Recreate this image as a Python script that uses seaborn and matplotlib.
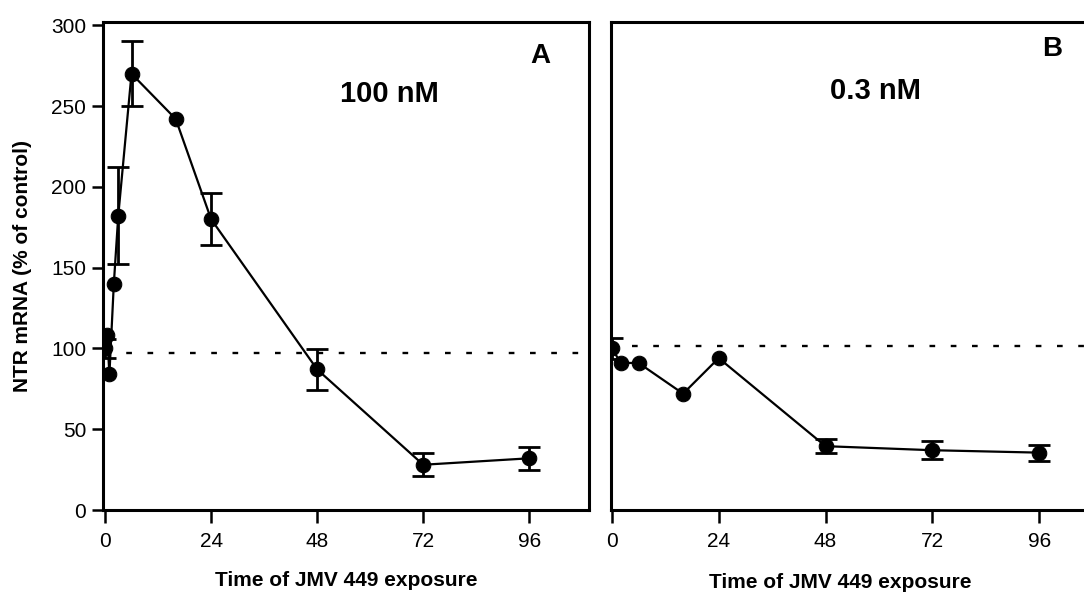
import seaborn as sns
import pandas as pd
import numpy as np
import matplotlib
matplotlib.use("Agg")
import matplotlib.pyplot as plt

# panel A : 100 nM
time_a = [0, 0.5, 1, 2, 3, 6, 16, 24, 48, 72, 96]
ntr_a = [100, 108, 84, 140, 182, 270, 242, 180, 87, 28, 32]
err_a = [6, 0, 0, 0, 30, 20, 0, 16, 12.5, 7, 7]
ctrl_a = 97

# panel B : 0.3 nM
time_b = [0, 2, 6, 16, 24, 48, 72, 96]
ntr_b = [100, 91, 91, 72, 94, 39.5, 37, 35.5]
err_b = [6.5, 0, 0, 0, 0, 4.5, 5.5, 5]
ctrl_b = 101.5

xticks = [0, 24, 48, 72, 96]
yticks = [0, 50, 100, 150, 200, 250, 300]

sns.set_style("ticks", {"axes.edgecolor": "black", "xtick.color": "black",
                        "ytick.color": "black", "text.color": "black",
                        "axes.labelcolor": "black"})
plt.rcParams["font.family"] = ["Liberation Sans", "DejaVu Sans"]

fig = plt.figure(figsize=(10.84, 5.93), dpi=100)
W, H = 1084, 593
ax1 = fig.add_axes([103 / W, 83 / H, 486 / W, 488 / H])
ax2 = fig.add_axes([611 / W, 83 / H, 486 / W, 488 / H])

df_a = pd.DataFrame({"time": time_a, "ntr": ntr_a, "err": err_a})
df_b = pd.DataFrame({"time": time_b, "ntr": ntr_b, "err": err_b})

for ax, df, ctrl, x0 in [(ax1, df_a, ctrl_a, 0), (ax2, df_b, ctrl_b, 4.5)]:
    ax.hlines(ctrl, x0, 112, colors="black", linewidth=1.7,
              linestyles=(0, (2.4, 6.6)), zorder=1)
    e = df[df["err"] > 0]
    ax.errorbar(e["time"], e["ntr"], yerr=e["err"], fmt="none", ecolor="black",
                elinewidth=2, capsize=8, capthick=2, zorder=2)
    sns.lineplot(data=df, x="time", y="ntr", ax=ax, color="black", linewidth=1.6,
                 marker="o", markersize=10.5, markeredgecolor="black", zorder=3)
    ax.set_ylim(0, 302)
    ax.set_xticks(xticks)
    ax.tick_params(axis="x", direction="out", length=9, width=1.8, labelsize=15,
                   pad=7, colors="black")
    ax.set_xlabel("Time of JMV 449 exposure", fontsize=15, fontweight="bold")
    for s in ax.spines.values():
        s.set_linewidth(2.2)
        s.set_color("black")
        s.set_visible(True)

ax1.set_xlim(-0.45, 109.5)
ax2.set_xlim(-0.2, 109.0)

ax1.set_yticks(yticks)
ax1.tick_params(axis="y", direction="out", length=8, width=1.8, labelsize=15,
                pad=4, colors="black")
ax1.set_ylabel("NTR mRNA (% of control)", fontsize=15, fontweight="bold", labelpad=14)

ax2.set_yticks([])
ax2.set_ylabel("")
ax2.spines["right"].set_visible(False)

ax1.xaxis.set_label_coords(0.5, -0.125)
ax2.xaxis.set_label_coords(0.471, -0.13)

ax1.text(0.9, 0.93, "A", transform=ax1.transAxes, fontsize=20,
         fontweight="bold", ha="center", va="center")
ax1.text(0.59, 0.853, "100 nM", transform=ax1.transAxes, fontsize=21,
         fontweight="bold", ha="center", va="center")
ax2.text(0.907, 0.945, "B", transform=ax2.transAxes, fontsize=20,
         fontweight="bold", ha="center", va="center")
ax2.text(0.545, 0.858, "0.3 nM", transform=ax2.transAxes, fontsize=21,
         fontweight="bold", ha="center", va="center")

fig.savefig("out.png", dpi=100)
